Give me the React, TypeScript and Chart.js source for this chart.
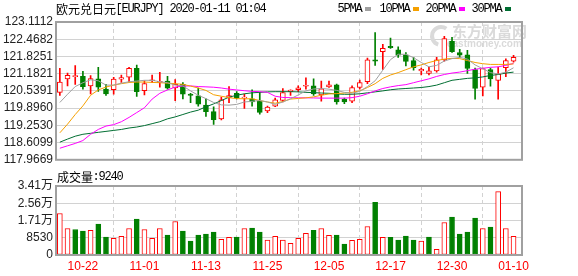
import React, { useEffect, useRef } from "react";
import { Chart, registerables } from "chart.js";

Chart.register(...registerables);

// ---------- data ----------
const dates = [
  "10-17","10-18","10-21","10-22","10-23","10-24","10-25","10-28","10-29","10-30",
  "10-31","11-01","11-04","11-05","11-06","11-07","11-08","11-11","11-12","11-13",
  "11-14","11-15","11-18","11-19","11-20","11-21","11-22","11-25","11-26","11-27",
  "11-28","11-29","12-02","12-03","12-04","12-05","12-06","12-09","12-10","12-11",
  "12-12","12-13","12-16","12-17","12-18","12-19","12-20","12-23","12-24","12-26",
  "12-27","12-30","12-31","01-02","01-03","01-06","01-07","01-08","01-09","01-10",
];

const opens = [
  120.485,120.989,121.071,121.086,120.726,120.989,120.604,120.582,120.978,121.050,
  121.384,120.546,120.917,120.856,120.906,120.654,120.784,120.424,120.352,120.007,
  119.766,119.489,120.294,120.449,120.269,120.244,120.161,119.791,119.971,120.186,
  120.510,120.582,120.712,120.726,120.388,120.690,120.762,120.223,120.151,120.665,
  120.881,121.697,122.007,122.201,122.068,121.888,121.672,121.287,121.194,121.287,
  121.697,122.392,121.971,121.888,121.338,120.676,121.338,120.928,121.410,121.647,
];
const highs = [
  121.384,121.205,121.482,121.266,121.107,121.420,120.784,121.050,121.133,121.420,
  121.503,120.917,121.133,121.230,121.086,120.964,120.845,120.449,120.640,120.244,
  119.946,120.305,120.701,120.510,120.424,120.582,120.485,119.971,120.269,120.629,
  120.582,120.726,121.025,120.989,120.906,120.906,120.798,120.269,120.726,120.942,
  121.762,122.715,122.273,122.510,122.187,121.971,121.791,121.395,121.431,121.791,
  122.572,122.536,122.093,122.057,121.395,121.395,121.395,121.431,121.733,121.863,
];
const lows = [
  120.366,120.726,120.784,120.604,120.424,120.521,120.366,120.413,120.856,120.881,
  120.330,120.388,120.845,120.676,120.604,120.172,120.244,120.100,119.971,119.586,
  119.287,119.460,120.100,120.244,119.884,119.971,119.668,119.730,119.946,120.125,
  120.366,120.510,120.604,120.366,120.151,120.665,120.043,120.064,120.100,120.604,
  120.809,121.492,121.338,122.129,121.791,121.467,121.313,121.133,121.133,121.241,
  121.647,121.971,121.791,121.194,120.233,120.352,120.712,120.233,121.071,121.611,
];
const closes = [
  120.870,121.122,121.107,120.701,120.999,120.676,120.424,120.978,121.035,121.384,
  120.510,120.809,120.942,120.892,120.640,120.784,120.413,120.366,120.043,119.766,
  119.467,120.208,120.366,120.280,120.305,120.125,119.740,119.935,120.208,120.474,
  120.568,120.654,120.748,120.424,120.618,120.762,120.125,120.125,120.665,120.845,
  121.697,121.647,122.129,122.151,121.877,121.636,121.410,121.348,121.287,121.697,
  122.489,122.007,121.877,121.374,120.629,121.374,120.989,121.169,121.672,121.791,
];

const ma5 = [
  120.107,120.413,120.701,120.845,120.953,120.917,120.755,120.755,120.827,120.881,
  120.906,120.935,120.935,120.881,120.845,120.755,120.726,120.539,120.377,120.251,
  120.107,120.017,120.007,120.035,120.125,120.151,120.179,120.125,120.035,120.125,
  120.244,120.388,120.539,120.611,120.629,120.604,120.557,120.485,120.449,120.521,
  120.701,120.917,121.313,121.708,121.906,121.906,121.780,121.600,121.438,121.492,
  121.654,121.744,121.791,121.726,121.510,121.366,121.223,121.169,121.241,121.402,
];
const ma10 = [
  118.974,119.298,119.658,119.981,120.377,120.575,120.683,120.755,120.809,120.852,
  120.870,120.870,120.856,120.845,120.827,120.809,120.784,120.719,120.647,120.557,
  120.395,120.341,120.287,120.251,120.244,120.244,120.179,120.125,120.079,120.143,
  120.233,120.258,120.280,120.316,120.377,120.424,120.438,120.460,120.485,120.539,
  120.665,120.809,121.007,121.133,121.223,121.331,121.438,121.510,121.600,121.672,
  121.726,121.755,121.744,121.672,121.600,121.554,121.528,121.528,121.528,121.546,
];
const ma20 = [
  118.399,118.489,118.578,118.686,118.920,119.100,119.226,119.280,119.388,119.550,
  119.730,119.910,120.233,120.449,120.575,120.683,120.719,120.726,120.701,120.690,
  120.676,120.647,120.604,120.575,120.546,120.521,120.510,120.485,120.341,120.294,
  120.287,120.280,120.280,120.276,120.269,120.269,120.269,120.269,120.287,120.341,
  120.431,120.539,120.629,120.690,120.737,120.773,120.845,120.917,120.989,121.079,
  121.151,121.205,121.241,121.295,121.348,121.384,121.420,121.438,121.492,121.564,
];
const ma30 = [
  118.625,118.740,118.848,118.920,118.956,118.992,119.028,119.064,119.100,119.154,
  119.190,119.244,119.316,119.388,119.496,119.568,119.658,119.748,119.820,119.946,
  120.053,120.179,120.305,120.377,120.431,120.467,120.485,120.503,120.510,120.510,
  120.510,120.503,120.485,120.474,120.460,120.449,120.424,120.413,120.413,120.431,
  120.467,120.503,120.539,120.582,120.611,120.629,120.647,120.665,120.701,120.755,
  120.845,120.935,120.971,121.007,121.025,121.061,121.115,121.151,121.205,121.241,
];

const volumes = [
  20500,13120,12630,11800,12140,15250,8860,8200,9180,13120,
  17710,12630,8200,13120,9840,16560,11800,6890,9840,10330,
  11320,7710,8690,8860,13120,13280,11320,7380,9180,7380,
  5740,8200,10660,12140,13120,9680,9840,5410,7220,7710,
  14100,26080,8690,8690,7380,9350,7380,6890,8860,2790,
  16070,18700,10330,11320,18200,13120,13780,31320,13120,9240,
];
const volumeUp = [
  1,1,0,0,1,0,0,1,1,1,
  0,1,1,1,0,1,0,0,0,0,
  0,1,1,0,1,0,0,1,1,1,
  1,1,1,0,1,1,0,0,1,1,
  1,0,1,0,0,0,0,1,0,1,
  1,0,0,0,0,1,0,1,1,1,
];

const priceTickLabels = ["117.9669","118.6099","119.2530","119.8960","120.5391","121.1821","121.8251","122.4682","123.1112"];
const volTickValues = [0, 8530, 17060, 25590, 34120];
const volTickLabels = ["0", "8530", "1.71万", "2.56万", "3.41万"];
const xTickLabels = ["10-22","11-01","11-13","11-25","12-05","12-17","12-30","01-10"];

const titleText = "欧元兑日元[EURJPY] 2020-01-11 01:04";
const volumeTitle = "成交量:9240";
const maNames = ["5PMA", "10PMA", "20PMA", "30PMA"];

// ---------- styles ----------
const RED = "#ff0000";
const GREEN = "#008000";
const MA_COLORS = ["#a0a0a0", "#f5a000", "#ff00ff", "#006e32"];
const GRID = "#d2d2d2";
const BORDER = "#a0a0a0";
const SANS = "Arial, 'Liberation Sans', 'Noto Sans CJK SC', sans-serif";

const priceTickValues = priceTickLabels.map((s) => parseFloat(s));
const xTickIdx = xTickLabels.map((l) => dates.indexOf(l));
const X_MIN = -0.5;
const X_MAX = dates.length + 0.1;

function drawSimText(ctx: CanvasRenderingContext2D, text: string, x: number, y: number, color: string) {
  ctx.save();
  ctx.fillStyle = color;
  ctx.textBaseline = "middle";
  for (const ch of text) {
    if (ch.charCodeAt(0) > 255) {
      ctx.font = "12px 'Noto Sans CJK SC'";
      ctx.textAlign = "left";
      ctx.fillText(ch, x, y + 0.5);
      x += 12;
    } else {
      ctx.font = "12px 'Liberation Mono'";
      ctx.textAlign = "center";
      if (ch !== " ") ctx.fillText(ch, x + 3, y);
      x += 6;
    }
  }
  ctx.restore();
  return x;
}

function borderPlugin(id: string) {
  return {
    id,
    afterDraw(chart: any) {
      const { ctx, chartArea: a } = chart;
      ctx.save();
      ctx.strokeStyle = BORDER;
      ctx.lineWidth = 2;
      ctx.strokeRect(a.left, a.top, a.right - a.left, a.bottom - a.top);
      ctx.restore();
    },
  };
}

const priceDecor = {
  id: "priceDecor",
  beforeDatasetsDraw(chart: any) {
    const ctx = chart.ctx as CanvasRenderingContext2D;
    ctx.save();
    ctx.fillStyle = "#dadada";
    ctx.textBaseline = "middle";
    ctx.textAlign = "left";
    ctx.font = "bold 15px 'Noto Sans CJK SC'";
    ctx.fillText("东方财富网", 452, 31);
    ctx.font = "bold 10px Arial";
    ctx.fillText("eastmoney.com", 447, 44);
    ctx.beginPath();
    ctx.lineWidth = 4;
    ctx.strokeStyle = "#dadada";
    ctx.arc(441, 36, 9, Math.PI * 0.6, Math.PI * 1.7);
    ctx.stroke();
    ctx.restore();
  },
  afterDraw(chart: any) {
    const ctx = chart.ctx as CanvasRenderingContext2D;
    drawSimText(ctx, titleText, 56, 9, "#000");
    const legendX = [338, 380, 426, 472];
    maNames.forEach((n, k) => {
      const end = drawSimText(ctx, n, legendX[k], 9, "#000");
      ctx.save();
      ctx.fillStyle = MA_COLORS[k];
      ctx.fillRect(end + 3, 7, 6, 4);
      ctx.restore();
    });
  },
};

const volDecor = {
  id: "volDecor",
  afterDraw(chart: any) {
    drawSimText(chart.ctx, volumeTitle, 57, 7, "#000");
  },
};

const isUp = (i: number) => closes[i] >= opens[i];

export default function App() {
  const priceRef = useRef<HTMLCanvasElement>(null);
  const volRef = useRef<HTMLCanvasElement>(null);

  useEffect(() => {
    Chart.defaults.font.family = SANS;

    const xScaleBase: any = {
      type: "linear",
      min: X_MIN,
      max: X_MAX,
      offset: false,
      afterBuildTicks: (ax: any) => {
        ax.ticks = xTickIdx.map((v) => ({ value: v }));
      },
      grid: { color: GRID, drawTicks: false, lineWidth: 1 },
      border: { display: false, dash: [4, 3] },
    };

    const maDatasets = [ma5, ma10, ma20, ma30].map((arr, k) => ({
      type: "line" as const,
      label: maNames[k],
      data: arr.map((v, i) => ({ x: i, y: v })),
      borderColor: MA_COLORS[k],
      borderWidth: 1,
      pointRadius: 0,
      tension: 0,
      fill: false,
      order: 0,
    }));

    const price = new Chart(priceRef.current!, {
      type: "bar",
      data: {
        datasets: [
          ...maDatasets,
          {
            type: "bar",
            label: "body",
            data: dates.map((_, i) => ({ x: i, y: [opens[i], closes[i]] })) as any,
            backgroundColor: dates.map((_, i) => (isUp(i) ? "#ffffff" : GREEN)),
            borderColor: dates.map((_, i) => (isUp(i) ? RED : GREEN)),
            borderWidth: 1,
            borderSkipped: false,
            barThickness: 5,
            minBarLength: 1,
            grouped: false,
            order: 1,
          } as any,
          {
            type: "bar",
            label: "wick",
            data: dates.map((_, i) => ({ x: i, y: [lows[i], highs[i]] })) as any,
            backgroundColor: dates.map((_, i) => (isUp(i) ? RED : GREEN)),
            borderWidth: 0,
            barThickness: 1,
            grouped: false,
            order: 2,
          } as any,
        ],
      },
      options: {
        responsive: false,
        animation: false,
        layout: { padding: { top: 22, bottom: 5, left: 0, right: 56 } },
        plugins: { legend: { display: false }, tooltip: { enabled: false } },
        scales: {
          x: {
            ...xScaleBase,
            ticks: { display: false },
            afterFit: (ax: any) => {
              ax.height = 0;
            },
          },
          y: {
            type: "linear",
            min: priceTickValues[0],
            max: priceTickValues[priceTickValues.length - 1],
            afterBuildTicks: (ax: any) => {
              ax.ticks = priceTickValues.map((v) => ({ value: v }));
            },
            ticks: {
              autoSkip: false,
              padding: 3,
              color: "#222",
              font: { size: 12, family: SANS },
              callback: (v: any) => {
                const k = priceTickValues.findIndex((t) => Math.abs(t - v) < 1e-6);
                return k >= 0 ? priceTickLabels[k] : "";
              },
            },
            grid: { color: GRID, drawTicks: false, lineWidth: 1 },
            border: { display: false },
            afterFit: (ax: any) => {
              ax.width = 56;
            },
          },
        } as any,
      },
      plugins: [priceDecor, borderPlugin("priceBorder")],
    });

    const vol = new Chart(volRef.current!, {
      type: "bar",
      data: {
        datasets: [
          {
            label: "volume",
            data: volumes.map((v, i) => ({ x: i, y: v })) as any,
            backgroundColor: volumes.map((_, i) => (volumeUp[i] ? "#ffffff" : GREEN)),
            borderColor: volumes.map((_, i) => (volumeUp[i] ? RED : GREEN)),
            borderWidth: 1,
            borderSkipped: false,
            barThickness: 5,
            grouped: false,
          } as any,
        ],
      },
      options: {
        responsive: false,
        animation: false,
        layout: { padding: { top: 16, bottom: 0, left: 0, right: 56 } },
        plugins: { legend: { display: false }, tooltip: { enabled: false } },
        scales: {
          x: {
            ...xScaleBase,
            ticks: {
              autoSkip: false,
              maxRotation: 0,
              padding: 4,
              color: RED,
              font: { size: 12, family: SANS },
              callback: (v: any) => {
                const k = xTickIdx.indexOf(Math.round(v));
                return k >= 0 ? xTickLabels[k] : "";
              },
            },
            afterFit: (ax: any) => {
              ax.height = 21;
            },
          },
          y: {
            type: "linear",
            min: 0,
            max: volTickValues[volTickValues.length - 1],
            afterBuildTicks: (ax: any) => {
              ax.ticks = volTickValues.map((v) => ({ value: v }));
            },
            ticks: {
              autoSkip: false,
              padding: 3,
              color: "#222",
              font: { size: 12, family: SANS },
              callback: (v: any) => {
                const k = volTickValues.indexOf(v);
                return k >= 0 ? volTickLabels[k] : "";
              },
            },
            grid: { color: GRID, drawTicks: false, lineWidth: 1 },
            border: { display: false },
            afterFit: (ax: any) => {
              ax.width = 56;
            },
          },
        } as any,
      },
      plugins: [volDecor, borderPlugin("volBorder")],
    });

    return () => {
      price.destroy();
      vol.destroy();
    };
  }, []);

  return (
    <div style={{ position: "fixed", left: 0, top: 0, width: 578, height: 276, background: "#fff" }}>
      <canvas ref={priceRef} width={578} height={170} style={{ position: "absolute", left: 0, top: 0, display: "block" }} />
      <canvas ref={volRef} width={578} height={106} style={{ position: "absolute", left: 0, top: 170, display: "block" }} />
    </div>
  );
}
